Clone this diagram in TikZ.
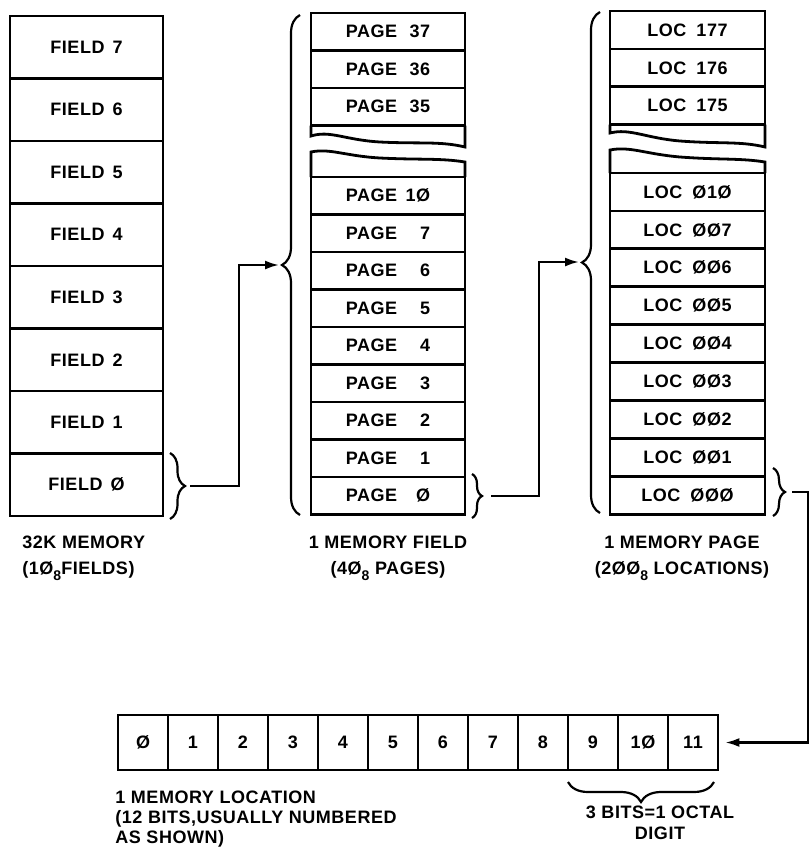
\documentclass[tikz,border=0pt]{standalone}
\usepackage{fontspec}
\setmainfont[LetterSpace=3,UprightFont=* Bold]{Liberation Sans}
\usetikzlibrary{arrows.meta,decorations.pathreplacing}
\newcommand{\octsub}[1]{\raisebox{-.6ex}{\fontsize{7}{7}\selectfont #1}}
\begin{document}
\begin{tikzpicture}[x=0.5pt,y=-0.5pt,
  box/.style={draw,line width=1.4pt,inner sep=0pt,font=\fontsize{9}{10}\selectfont},
  fieldbox/.style={box,minimum width=76.5pt,minimum height=31.25pt},
  pagebox/.style={box,minimum width=77pt,minimum height=18.75pt},
  locbox/.style={box,minimum width=77.5pt,minimum height=18.95pt},
  bitbox/.style={box,minimum width=25pt,minimum height=27.5pt},
  bracket/.style={decorate,decoration={brace,amplitude=#1},line width=1.1pt},
  link/.style={line width=1.1pt,-{Latex[length=7pt,width=4.5pt]}},
  caption/.style={inner sep=0pt,font=\fontsize{9}{10}\selectfont}]
\useasboundingbox (0,0) rectangle (809,847);
\foreach \k/\t in {7/7,6/6,5/5,4/4,3/3,2/2,1/1,0/Ø}
  \node[fieldbox] (fld\k) at (86.5,{47.25+62.5*(7-\k)}) {FIELD\hspace{4pt}\t};
\foreach \n [count=\j from 0] in {37,36,35}
  \node[pagebox] (pg\n) at (388,{31.75+37.5*\j}) {PAGE\hspace{6pt}\makebox[10.5pt][r]{\n}};
\foreach \n/\t [count=\j from 0] in {10/1Ø,7/7,6/6,5/5,4/4,3/3,2/2,1/1,0/Ø}
  \node[pagebox] (pg\n) at (388,{195.75+37.5*\j}) {PAGE\hspace{6pt}\makebox[10.5pt][r]{\t}};
\draw[line width=1.4pt] (311,125.5) -- (311,136) .. controls (330,130) and (345,140) .. (380,142)
  .. controls (420,144) and (440,141) .. (465,147) -- (465,125.5);
\draw[line width=1.4pt] (311,177) -- (311,152) .. controls (330,148) and (345,156) .. (380,158)
  .. controls (420,160) and (440,158) .. (465,162) -- (465,177);
\foreach \n [count=\j from 0] in {177,176,175}
  \node[locbox] (loc\n) at (687.5,{29.95+37.9*\j}) {LOC\hspace{5pt}\n};
\foreach \n/\t [count=\j from 0] in {10/Ø1Ø,7/ØØ7,6/ØØ6,5/ØØ5,4/ØØ4,3/ØØ3,2/ØØ2,1/ØØ1,0/ØØØ}
  \node[locbox] (loc\n) at (687.5,{191.95+37.9*\j}) {LOC\hspace{5pt}\t};
\draw[line width=1.4pt] (610,124.7) -- (610,133) .. controls (630,128) and (645,138) .. (680,141)
  .. controls (720,144) and (740,141) .. (765,147) -- (765,124.7);
\draw[line width=1.4pt] (610,173) -- (610,150) .. controls (630,146) and (645,154) .. (680,157)
  .. controls (720,160) and (740,158) .. (765,162) -- (765,173);
\foreach \i/\t in {0/Ø,1/1,2/2,3/3,4/4,5/5,6/6,7/7,8/8,9/9,10/1Ø,11/11}
  \node[bitbox] (bit\i) at ({143+50*\i},742.5) {\t};
\draw[bracket=7.5pt] (170,453) -- (170,519);
\draw[bracket=9pt] (300,515) -- (300,15);
\draw[bracket=5pt] (472,474) -- (472,518);
\draw[bracket=9pt] (600,513) -- (600,12);
\draw[bracket=6pt] (773,468) -- (773,516);
\draw[bracket=10pt] (714,782) -- (568,782);
\coordinate (fldtip) at (190,486);
\coordinate (pagetip) at (279,265);
\coordinate (pgtip) at (491,496);
\coordinate (loctip) at (579,262);
\coordinate (loc0tip) at (792,492);
\draw[link] (fldtip) -- ++(49,0) |- (pagetip);
\draw[link] (pgtip) -- ++(48,0) |- (loctip);
\draw[link,shorten >=3pt] (loc0tip) -- ++(16,0) |- (bit11.east);
\node[caption,font=\fontsize{9}{13}\selectfont,align=left,anchor=north west] (memcap) at (22,536)
  {32K MEMORY\\(1Ø\octsub{8}FIELDS)};
\node[caption,font=\fontsize{9}{13}\selectfont,align=center,anchor=north] (fldcap) at (388,536)
  {1 MEMORY FIELD\\(4Ø\octsub{8} PAGES)};
\node[caption,font=\fontsize{9}{13}\selectfont,align=center,anchor=north] (pgcap) at (682,536)
  {1 MEMORY PAGE\\(2ØØ\octsub{8} LOCATIONS)};
\node[caption,align=left,anchor=north west] (loccap) at (115,791)
  {1 MEMORY LOCATION\\(12 BITS,USUALLY NUMBERED\\AS SHOWN)};
\node[caption,font=\fontsize{9}{10.5}\selectfont,align=center,anchor=north] (octcap) at (660,806)
  {3 BITS=1 OCTAL\\DIGIT};
\end{tikzpicture}
\end{document}
